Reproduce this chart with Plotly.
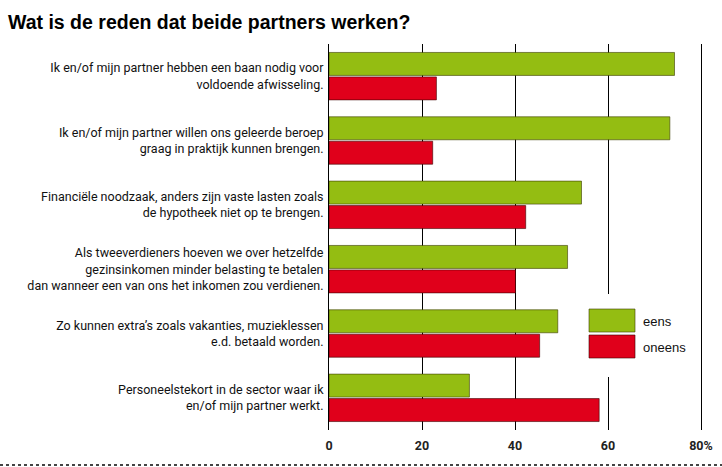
import plotly.graph_objects as go

categories = [
    "Ik en/of mijn partner hebben een baan nodig voor<br>voldoende afwisseling.",
    "Ik en/of mijn partner willen ons geleerde beroep<br>graag in praktijk kunnen brengen.",
    "Financiële noodzaak, anders zijn vaste lasten zoals<br>de hypotheek niet op te brengen.",
    "Als tweeverdieners hoeven we over hetzelfde<br>gezinsinkomen minder belasting te betalen<br>dan wanneer een van ons het inkomen zou verdienen.",
    "Zo kunnen extra’s zoals vakanties, muzieklessen<br>e.d. betaald worden.",
    "Personeelstekort in de sector waar ik<br>en/of mijn partner werkt.",
]
eens = [74.3, 73.3, 54.3, 51.3, 49.2, 30.2]
oneens = [23.1, 22.3, 42.3, 40.1, 45.3, 58.1]
tick_vals = [0, 20, 40, 60, 80]
tick_text = ["0", "20", "40", "60", "80%"]

GREEN = "#94bd12"
RED = "#e0001b"
FONT = "Roboto, Liberation Sans, sans-serif"

fig = go.Figure()
fig.add_trace(go.Bar(y=categories, x=eens, orientation="h", name="eens",
                     marker=dict(color=GREEN, line=dict(color="rgba(60,60,0,0.6)", width=1))))
fig.add_trace(go.Bar(y=categories, x=oneens, orientation="h", name="oneens",
                     marker=dict(color=RED, line=dict(color="rgba(60,0,0,0.6)", width=1))))

fig.update_layout(
    width=722, height=467,
    margin=dict(l=329, r=21, t=44, b=37, autoexpand=False),
    paper_bgcolor="white", plot_bgcolor="white",
    barmode="group", bargap=0.24, bargroupgap=0.06,
    showlegend=False,
    font=dict(family=FONT, size=12.5, color="#111"),
    xaxis=dict(range=[0, 80], tickvals=tick_vals, ticktext=tick_text,
               showgrid=True, gridcolor="#000", gridwidth=1,
               zeroline=False, showline=False,
               ticks="", ticklabelstandoff=6,
               tickfont=dict(family=FONT, size=12.5, color="#222", weight="bold"),
               fixedrange=True),
    yaxis=dict(autorange="reversed", showgrid=False, zeroline=False,
               showline=True, mirror=True, linecolor="#000", linewidth=1,
               ticks="", ticklabelstandoff=2, automargin=False,
               tickfont=dict(family=FONT, size=12.5, color="#111"), fixedrange=True),
    title=dict(text="<b>Wat is de reden dat beide partners werken?</b>",
               x=8/722, xanchor="left", xref="container", y=1 - 22/467, yanchor="middle",
               yref="container",
               font=dict(family="Liberation Sans, Arial, sans-serif", size=19.5, color="#000")),
)

# legend (drawn manually to match the boxed style)
shapes = [
    dict(type="rect", xref="x", yref="paper", x0=53, x1=79,
         y0=(430-377)/386, y1=(430-294)/386, fillcolor="white", line=dict(width=0), layer="above"),
    dict(type="rect", xref="x", yref="paper", x0=(589-329)/4.65, x1=(635-329)/4.65,
         y0=(430-332)/386, y1=(430-309)/386, fillcolor=GREEN,
         line=dict(color="rgba(60,60,0,0.6)", width=1), layer="above"),
    dict(type="rect", xref="x", yref="paper", x0=(589-329)/4.65, x1=(635-329)/4.65,
         y0=(430-358)/386, y1=(430-335)/386, fillcolor=RED,
         line=dict(color="rgba(60,0,0,0.6)", width=1), layer="above"),
    dict(type="line", xref="paper", yref="paper", x0=-329/372, x1=(722-329)/372,
         y0=(430-465)/386, y1=(430-465)/386, line=dict(color="#444", width=2, dash="dot")),
]
fig.update_layout(shapes=shapes)
fig.add_annotation(x=(641-329)/4.65, y=(430-321)/386, xref="x", yref="paper",
                   text="eens", showarrow=False, xanchor="left", yanchor="middle",
                   font=dict(family="Liberation Sans, Arial, sans-serif", size=13, color="#111"))
fig.add_annotation(x=(641-329)/4.65, y=(430-347)/386, xref="x", yref="paper",
                   text="oneens", showarrow=False, xanchor="left", yanchor="middle",
                   font=dict(family="Liberation Sans, Arial, sans-serif", size=13, color="#111"))

fig.write_html("out.html", config={"displayModeBar": False},
               post_script="document.body.style.margin='0';")
